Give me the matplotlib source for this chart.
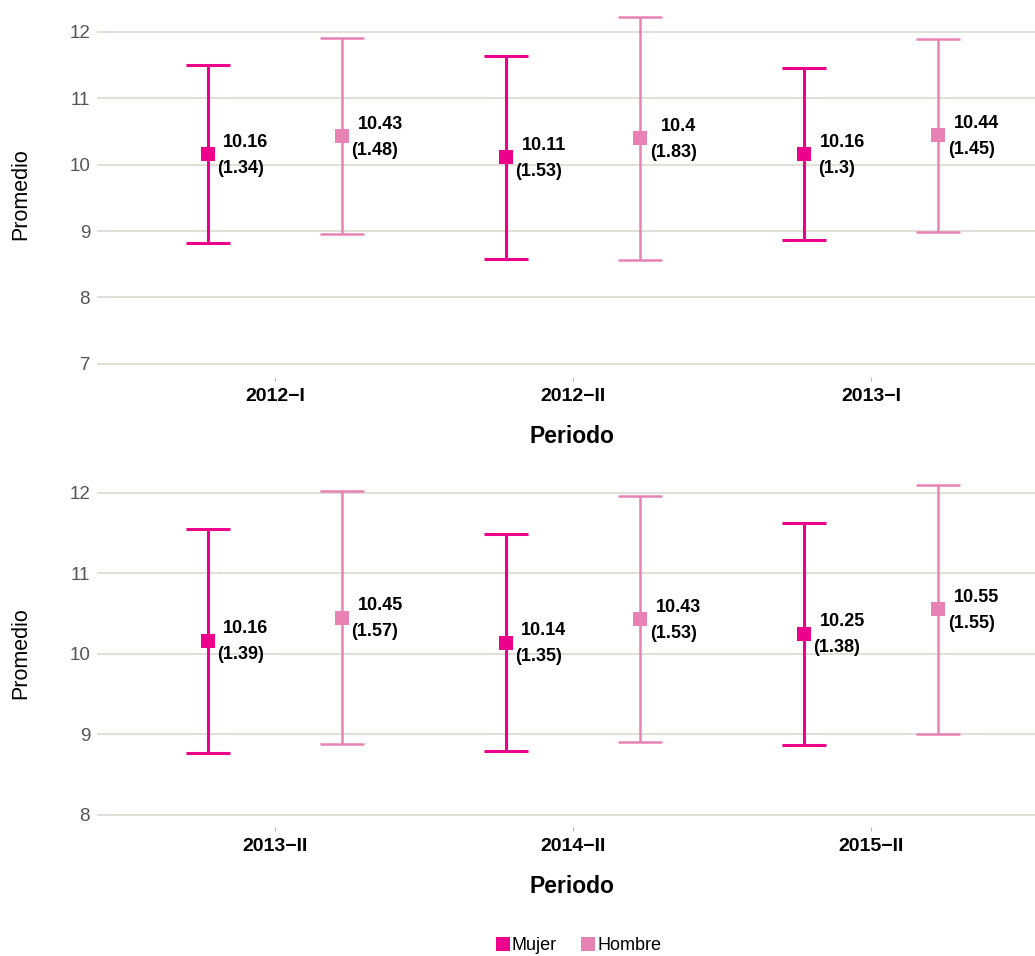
import matplotlib
matplotlib.use("Agg")
import matplotlib.pyplot as plt
from matplotlib.lines import Line2D

plt.rcParams['font.family'] = ['Liberation Sans', 'DejaVu Sans']

# Data
periods_top = ["2012\u2212I", "2012\u2212II", "2013\u2212I"]
periods_bot = ["2013\u2212II", "2014\u2212II", "2015\u2212II"]
mujer_mean_top = [10.16, 10.11, 10.16]
mujer_sd_top = [1.34, 1.53, 1.30]
hombre_mean_top = [10.43, 10.40, 10.44]
hombre_sd_top = [1.48, 1.83, 1.45]
mujer_mean_bot = [10.16, 10.14, 10.25]
mujer_sd_bot = [1.39, 1.35, 1.38]
hombre_mean_bot = [10.45, 10.43, 10.55]
hombre_sd_bot = [1.57, 1.53, 1.55]

def fmt(v):
    return f"{v:.2f}".rstrip('0').rstrip('.')

C_M = '#EC008C'
C_H = '#E882B5'
GRID = '#DAD6CA'

W, H = 1035, 956
fig = plt.figure(figsize=(W/100, H/100), dpi=100)

def add_ax(left, top, right, bottom):
    return fig.add_axes([left/W, 1-bottom/H, (right-left)/W, (bottom-top)/H])

ax1 = add_ax(97, 12, 1035, 377)
ax2 = add_ax(97, 479, 1035, 827)

def draw(ax, cats, mm, ms, hm, hs, ylim, yticks):
    xs = list(range(1, len(cats)+1))
    d = 0.225
    for series, (means, sds, col, lw) in enumerate([(mm, ms, C_M, 2.2), (hm, hs, C_H, 1.8)]):
        off = -d if series == 0 else d
        px = [x + off for x in xs]
        ax.errorbar(px, means, yerr=sds, fmt='none', ecolor=col,
                    elinewidth=lw, capsize=15.8, capthick=lw, zorder=3)
        ax.plot(px, means, linestyle='none', marker='s', color=col,
                markersize=9.8, markeredgewidth=0, zorder=4)
        for x, m, s in zip(px, means, sds):
            ax.annotate(fmt(m), (x, m), xytext=(38, 12),
                        textcoords='offset pixels', ha='center', va='center',
                        fontsize=13, fontweight='bold', color='black', zorder=5)
            ax.annotate(f"({fmt(s)})", (x, m), xytext=(33, -14),
                        textcoords='offset pixels', ha='center', va='center',
                        fontsize=13, fontweight='bold', color='black', zorder=5)
    ax.set_xlim(0.403, 3.55)
    ax.set_ylim(*ylim)
    ax.set_yticks(yticks)
    ax.set_xticks(xs)
    ax.set_xticklabels(cats, fontsize=14, fontweight='bold', color='black')
    ax.tick_params(axis='x', length=3, color='#BBBBBB', pad=5)
    ax.tick_params(axis='y', length=0, labelsize=13.5, labelcolor='#555555', pad=5)
    ax.grid(axis='y', color=GRID, linewidth=1.1)
    ax.set_axisbelow(True)
    for sp in ax.spines.values():
        sp.set_visible(False)
    ax.set_xlabel("Periodo", fontsize=16.5, fontweight='bold', labelpad=14)
    ax.xaxis.label.set_x((572 - 97) / (1035 - 97))
    ax.set_ylabel("Promedio", fontsize=15.5, labelpad=27)

draw(ax1, periods_top, mujer_mean_top, mujer_sd_top, hombre_mean_top, hombre_sd_top,
     (6.8, 12.3), [7, 8, 9, 10, 11, 12])
draw(ax2, periods_bot, mujer_mean_bot, mujer_sd_bot, hombre_mean_bot, hombre_sd_bot,
     (7.85, 12.17), [8, 9, 10, 11, 12])

handles = [Line2D([], [], marker='s', color=C_M, linestyle='none', markersize=10.5, markeredgewidth=0),
           Line2D([], [], marker='s', color=C_H, linestyle='none', markersize=10.5, markeredgewidth=0)]
fig.legend(handles, ["Mujer", "Hombre"], loc='center', bbox_to_anchor=(578/W, 1-946/H),
           ncol=2, frameon=False, fontsize=13, handletextpad=0.05, columnspacing=1.3,
           handlelength=0.9)

fig.savefig("out.png", dpi=100, facecolor='white')
